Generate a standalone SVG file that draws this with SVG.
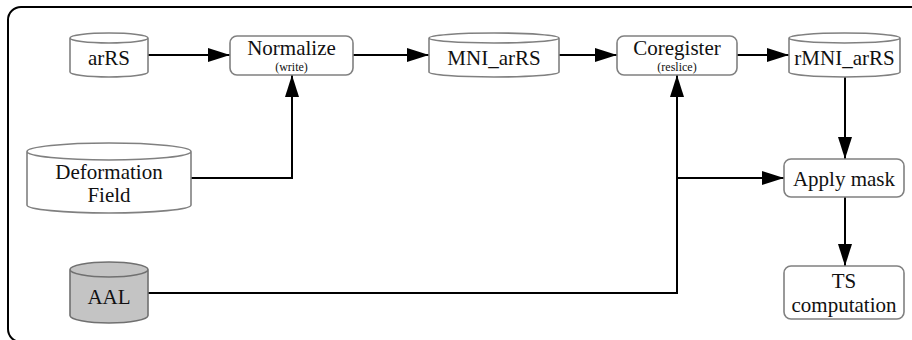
<svg xmlns="http://www.w3.org/2000/svg" width="912" height="340" viewBox="0 0 912 340">
  <style>
    .frame { fill: #ffffff; stroke: #000000; stroke-width: 2; }
    .node { fill: #ffffff; stroke: #808080; stroke-width: 1.6; }
    .atlas { fill: #c4c4c4; stroke: #707070; stroke-width: 1.6; }
    .edge { fill: none; stroke: #000000; stroke-width: 2; }
    text { font-family: "Liberation Serif", "DejaVu Serif", serif; fill: #111111; text-anchor: middle; }
    .big { font-size: 21px; }
    .small { font-size: 12px; }
  </style>
  <defs>
    <marker id="arrow" markerUnits="userSpaceOnUse" markerWidth="22" markerHeight="14" refX="22" refY="7" orient="auto">
      <path d="M0,0 L22,7 L0,14 Z" fill="#000000"/>
    </marker>
  </defs>

  <!-- pipeline frame -->
  <rect class="frame" x="8" y="7" width="1000" height="335" rx="13"/>

  <!-- connectors -->
  <g id="edges">
    <path class="edge" d="M148,55 H230" marker-end="url(#arrow)"/>
    <path class="edge" d="M353,55 H429" marker-end="url(#arrow)"/>
    <path class="edge" d="M559,55 H617" marker-end="url(#arrow)"/>
    <path class="edge" d="M737,55 H789" marker-end="url(#arrow)"/>
    <path class="edge" d="M191,178 H292 V75" marker-end="url(#arrow)"/>
    <path class="edge" d="M148,293 H677 V75" marker-end="url(#arrow)"/>
    <path class="edge" d="M677,178 H784" marker-end="url(#arrow)"/>
    <path class="edge" d="M845,77 V159" marker-end="url(#arrow)"/>
    <path class="edge" d="M845,197 V266" marker-end="url(#arrow)"/>
  </g>

  <!-- input volumes -->
  <g id="arRS">
    <path class="node" d="M70,38 V72 A39,5 0 0 0 148,72 V38 A39,5 0 0 0 70,38 Z M70,38 A39,5 0 0 0 148,38"/>
    <text class="big" x="109" y="65">arRS</text>
  </g>

  <g id="deformation">
    <path class="node" d="M27,151.5 V205 A82,8 0 0 0 191,205 V151.5 A82,8.5 0 0 0 27,151.5 Z M27,151.5 A82,8.5 0 0 0 191,151.5"/>
    <text class="big" x="109" y="179">Deformation</text>
    <text class="big" x="109" y="202">Field</text>
  </g>

  <g id="aal">
    <path class="atlas" d="M70,269.5 V315.5 A39,7.5 0 0 0 148,315.5 V269.5 A39,7.5 0 0 0 70,269.5 Z M70,269.5 A39,7.5 0 0 0 148,269.5"/>
    <text class="big" x="109" y="304">AAL</text>
  </g>

  <!-- processing steps -->
  <g id="normalize">
    <rect class="node" x="230" y="36" width="123" height="39" rx="7"/>
    <text class="big" x="291.5" y="55">Normalize</text>
    <text class="small" x="291.5" y="71">(write)</text>
  </g>

  <g id="mni_arRS">
    <path class="node" d="M429,38 V72 A65,5 0 0 0 559,72 V38 A65,5 0 0 0 429,38 Z M429,38 A65,5 0 0 0 559,38"/>
    <text class="big" x="494" y="65">MNI_arRS</text>
  </g>

  <g id="coregister">
    <rect class="node" x="617" y="36" width="120" height="39" rx="7"/>
    <text class="big" x="677" y="55">Coregister</text>
    <text class="small" x="677" y="71">(reslice)</text>
  </g>

  <g id="rmni_arRS">
    <path class="node" d="M789,38 V72 A55.5,5 0 0 0 900,72 V38 A55.5,5 0 0 0 789,38 Z M789,38 A55.5,5 0 0 0 900,38"/>
    <text class="big" x="844.5" y="65">rMNI_arRS</text>
  </g>

  <g id="apply_mask">
    <rect class="node" x="784" y="159" width="120" height="38" rx="7"/>
    <text class="big" x="844" y="186">Apply mask</text>
  </g>

  <g id="ts_computation">
    <rect class="node" x="784" y="266" width="120" height="53" rx="7"/>
    <text class="big" x="844" y="288">TS</text>
    <text class="big" x="844" y="312">computation</text>
  </g>
</svg>
